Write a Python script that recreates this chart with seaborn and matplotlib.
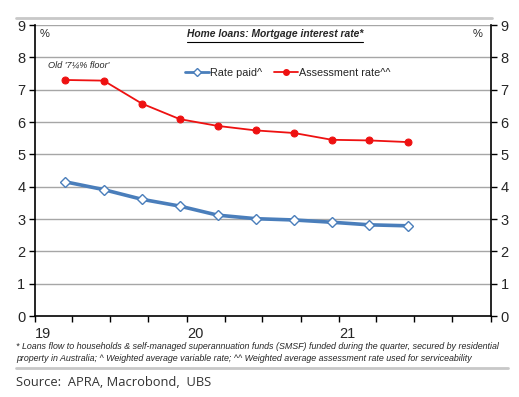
"""
Home loans: mortgage interest rate chart (APRA quarterly data).
"""

import matplotlib
matplotlib.use('Agg')
import matplotlib.pyplot as plt
import matplotlib.dates as mdates
import matplotlib.lines as mlines
import pandas as pd
import seaborn as sns

# quarterly observations, Q1 2019 .. Q2 2021
quarters = ['2019-03-15', '2019-06-15', '2019-09-15', '2019-12-15', '2020-03-15',
            '2020-06-15', '2020-09-15', '2020-12-15', '2021-03-15', '2021-06-15']
rate_paid = [4.15, 3.91, 3.61, 3.40, 3.12, 3.01, 2.97, 2.90, 2.82, 2.79]
assessment_rate = [7.30, 7.28, 6.57, 6.09, 5.88, 5.74, 5.66, 5.45, 5.43, 5.38]
year_ticks = ['2019-01-01', '2020-01-01', '2021-01-01']
y_ticks = list(range(0, 10))

BLUE = '#4a7ebb'
RED = '#ee1111'

df = pd.DataFrame({
    'date': pd.to_datetime(quarters),
    'Rate paid^': rate_paid,
    'Assessment rate^^': assessment_rate,
})

sns.set_style('white')
plt.rcParams['font.family'] = ['Liberation Sans', 'DejaVu Sans']

fig = plt.figure(figsize=(5.19, 3.97), dpi=100)
ax = fig.add_axes([0.0674, 0.204, 0.8781, 0.733])

# Gridlines
for v in y_ticks[1:]:
    ax.axhline(v, color='#a6a6a6', lw=1.0, zorder=0)

sns.lineplot(data=df, x='date', y='Assessment rate^^', ax=ax, color=RED, lw=1.3,
             marker='o', markersize=5, markeredgecolor=RED, zorder=3)
sns.lineplot(data=df, x='date', y='Rate paid^', ax=ax, color=BLUE, lw=2.6,
             marker='D', markersize=5.5, markerfacecolor='white',
             markeredgecolor=BLUE, markeredgewidth=1.0, zorder=4)

ax.set_ylim(0, 9)
ax.set_xlim(pd.Timestamp('2019-01-01'), pd.Timestamp('2022-01-01'))
ax.set_yticks(y_ticks)
ax.set_xlabel('')
ax.set_ylabel('')

ax.set_xticks(pd.to_datetime(year_ticks))
ax.xaxis.set_major_formatter(mdates.DateFormatter('%y'))
ax.xaxis.set_minor_locator(mdates.MonthLocator(bymonth=[1, 4, 7, 10]))
for lab in ax.get_xticklabels():
    lab.set_horizontalalignment('left')

ax.tick_params(axis='y', left=True, right=True, labelleft=True, labelright=True,
               direction='out', length=4, width=1, color='black', labelsize=10.5, pad=3)
ax.tick_params(axis='x', which='both', bottom=True, direction='out', length=4,
               width=1, color='black', labelsize=10.5, pad=4)

for side in ['left', 'right', 'bottom']:
    ax.spines[side].set_color('black')
    ax.spines[side].set_linewidth(1.2)
ax.spines['top'].set_visible(False)

# Annotations inside the plot
ax.text(0.022, 0.97, '%', transform=ax.transAxes, fontsize=8, va='center', ha='center')
ax.text(0.971, 0.97, '%', transform=ax.transAxes, fontsize=8, va='center', ha='center')
ax.text(0.526, 0.97, 'Home loans: Mortgage interest rate*', transform=ax.transAxes,
        fontsize=7.4, fontweight='bold', fontstyle='italic', va='center', ha='center')
fig.add_artist(mlines.Line2D([0.36, 0.699], [0.893, 0.893], color='black', lw=0.8))
ax.text(0.028, 0.862, "Old '7\u00bc% floor'", transform=ax.transAxes,
        fontsize=6.6, fontstyle='italic', va='center', ha='left')

leg_handles = [
    mlines.Line2D([], [], color=BLUE, lw=2, marker='D', markersize=4,
                  markerfacecolor='white', markeredgecolor=BLUE),
    mlines.Line2D([], [], color=RED, lw=1.3, marker='o', markersize=4),
]
ax.legend(leg_handles, ['Rate paid^', 'Assessment rate^^'], loc='center',
          bbox_to_anchor=(0.555, 0.835), ncol=2, frameon=False, fontsize=7.8,
          handlelength=2.2, handletextpad=0.1, columnspacing=1.1)

# Separator lines and footnotes
fig.add_artist(mlines.Line2D([0.031, 0.948], [0.954, 0.954], color='#c8c8c8', lw=2))
fig.add_artist(mlines.Line2D([0.031, 0.979], [0.073, 0.073], color='#c8c8c8', lw=2))
fig.text(0.031, 0.127, '* Loans flow to households & self-managed superannuation funds (SMSF) '
         'funded during the quarter, secured by residential', fontsize=6.4,
         fontstyle='italic', va='center')
fig.text(0.031, 0.096, "property in Australia; ^ Weighted average variable rate; ^^ Weighted "
         "average assessment rate used for serviceability", fontsize=6.4,
         fontstyle='italic', va='center')
fig.text(0.031, 0.036, 'Source:  APRA, Macrobond,  UBS', fontsize=9.3, color='#333333',
         family=['Open Sans', 'DejaVu Sans'], va='center')

plt.savefig('out.png', dpi=100)
plt.close()
